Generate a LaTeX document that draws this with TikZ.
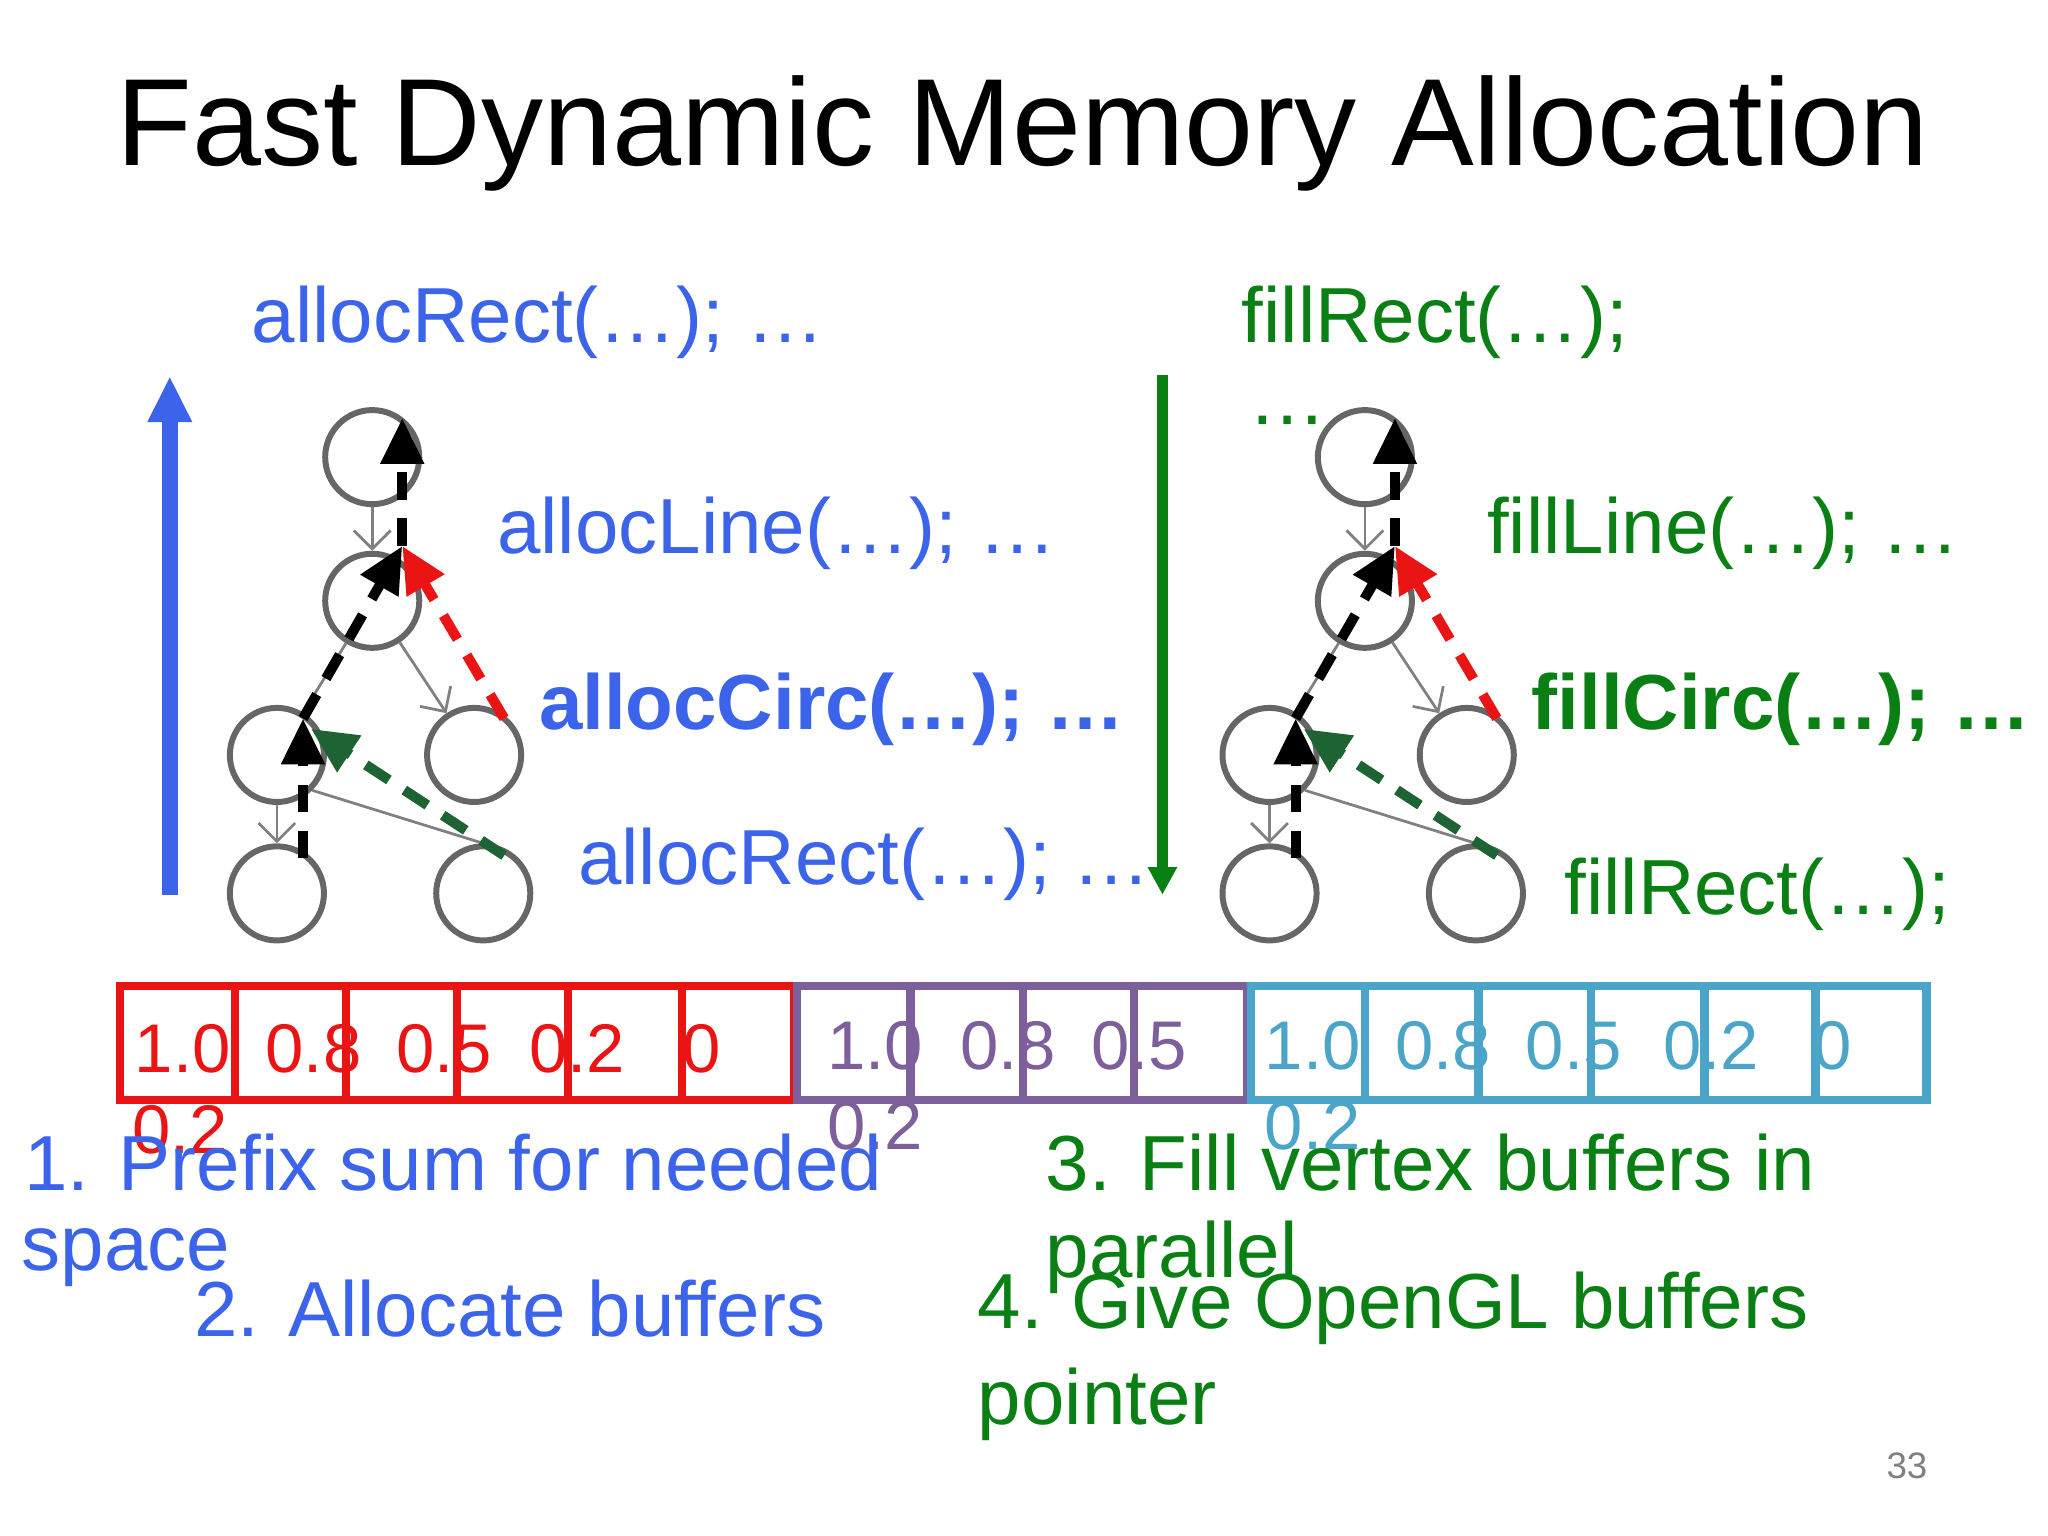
\documentclass[tikz,border=0pt]{standalone}
\usepackage{fontspec}
\setmainfont{Liberation Sans}
\usetikzlibrary{arrows.meta}
\definecolor{cblue}{RGB}{60,100,235}
\definecolor{cgreen}{RGB}{10,128,20}
\definecolor{dgreen}{RGB}{30,100,50}
\definecolor{cred}{RGB}{235,20,20}
\definecolor{cpurp}{RGB}{125,95,155}
\definecolor{cteal}{RGB}{75,165,200}
\begin{document}
\begin{tikzpicture}[x=0.01cm,y=-0.01cm,
  circ/.style={circle,draw=gray!80!black,line width=1.3pt,minimum size=0.72cm,inner sep=0pt},
  tharr/.style={draw=gray,line width=0.6pt,-{Straight Barb[length=4pt]}},
  dsh/.style={line width=2.2pt,dash pattern=on 6pt off 4pt,-{Triangle[length=10pt,width=9pt]}},
  code/.style={font=\fontsize{17}{20}\selectfont,anchor=west,inner sep=0pt},
  item/.style={font=\fontsize{17}{20}\selectfont,anchor=west,inner sep=0pt},
  num/.style={font=\fontsize{15}{18}\selectfont,inner sep=0pt}]
\useasboundingbox (0,0) rectangle (1568,1176);
\node[font=\fontsize{27}{32}\selectfont] (title) at (783,102) {Fast Dynamic Memory Allocation};
\node[code,cblue] (l1) at (192,247) {allocRect(…); …};
\node[code,cblue] (l2) at (380,408) {allocLine(…); …};
\node[code,cblue,font=\fontsize{17}{20}\selectfont\bfseries] (l3) at (412,543) {allocCirc(…); …};
\node[code,cblue] (l4) at (442,662) {allocRect(…); …};
\node[code,cgreen] (r1) at (950,247) {fillRect(…);};
\node[code,cgreen] (r1b) at (955,322) {…};
\node[code,cgreen] (r2) at (1138,408) {fillLine(…); …};
\node[code,cgreen,font=\fontsize{17}{20}\selectfont\bfseries] (r3) at (1172,543) {fillCirc(…); …};
\node[code,cgreen] (r4) at (1197,685) {fillRect(…);};
\coordinate (ba) at (130,685); \coordinate (bb) at (130,288);
\draw[cblue,line width=3.5pt,-{Triangle[length=10pt,width=9pt]}] (ba) -- (bb);
\coordinate (ga) at (890,287); \coordinate (gb) at (890,685);
\draw[cgreen,line width=2.5pt,-{Triangle[length=6pt,width=6pt]}] (ga) -- (gb);
\foreach \d/\p in {0/L,760/R}{
 \begin{scope}[xshift=\d*0.01cm]
 \node[circ] (\p t) at (285,350) {};
 \node[circ] (\p m) at (285,460) {};
 \node[circ] (\p a) at (212,578) {};
 \node[circ] (\p b) at (363,578) {};
 \node[circ] (\p c) at (212,684) {};
 \node[circ] (\p d) at (370,684) {};
 \draw[tharr] (\p t) -- (\p m);
 \draw[tharr] (\p m) -- (\p b);
 \draw[tharr] (\p a) -- (\p c);
 \draw[gray,line width=0.6pt] (\p a.south east) -- (\p d.north);
 \draw[gray,line width=0.6pt] (\p m) -- (\p a);
 \coordinate (\p 1) at (232,657); \coordinate (\p 2) at (232,550);
 \coordinate (\p 3) at (308,418); \coordinate (\p 4) at (308,320);
 \coordinate (\p 5) at (386,550); \coordinate (\p 6) at (386,655); \coordinate (\p 7) at (238,558);
 \draw[dsh] (\p 1) -- (\p 2);
 \draw[dsh] (\p 2) -- (\p 3);
 \draw[dsh] (\p 3) -- (\p 4);
 \draw[dsh,cred] (\p 5) -- (\p 3);
 \draw[dsh,dgreen] (\p 6) -- (\p 7);
 \end{scope}}
% buffers
\draw[cred,line width=1.8pt] (92,755) rectangle (608,842);
\foreach \x in {180,265,350,435,522} \draw[cred,line width=1.8pt] (\x,755) -- (\x,842);
\foreach \x/\t in {140/1.0,240/0.8,340/0.5,442/0.2,537/0} \node[num,cred] at (\x,803) {\t};
\node[num,cred] at (138,865) {0.2};
\draw[cpurp,line width=1.8pt] (610,755) rectangle (955,842);
\foreach \x in {697,783,868} \draw[cpurp,line width=1.8pt] (\x,755) -- (\x,842);
\foreach \x/\t in {670/1.0,772/0.8,872/0.5} \node[num,cpurp] at (\x,801) {\t};
\node[num,cpurp] at (670,862) {0.2};
\draw[cteal,line width=1.8pt] (958,755) rectangle (1475,842);
\foreach \x in {1045,1132,1218,1305,1390} \draw[cteal,line width=1.8pt] (\x,755) -- (\x,842);
\foreach \x/\t in {1005/1.0,1105/0.8,1205/0.5,1310/0.2,1403/0} \node[num,cteal] at (\x,801) {\t};
\node[num,cteal] at (1005,862) {0.2};
\node[item,cblue] (i1) at (18,890) {1. Prefix sum for needed};
\node[item,cblue] (i1b) at (16,963) {space};
\node[item,cblue] (i2) at (148,1002) {2. Allocate buffers};
\node[item,cgreen] (i3) at (800,890) {3. Fill vertex buffers in};
\node[item,cgreen] (i3b) at (800,963) {parallel};
\node[item,cgreen] (i4) at (748,1002) {4. Give OpenGL buffers};
\node[item,cgreen] (i4b) at (748,1075) {pointer};
\node[gray,font=\fontsize{8}{10}\selectfont] (pg) at (1460,1122) {33};
\end{tikzpicture}
\end{document}
